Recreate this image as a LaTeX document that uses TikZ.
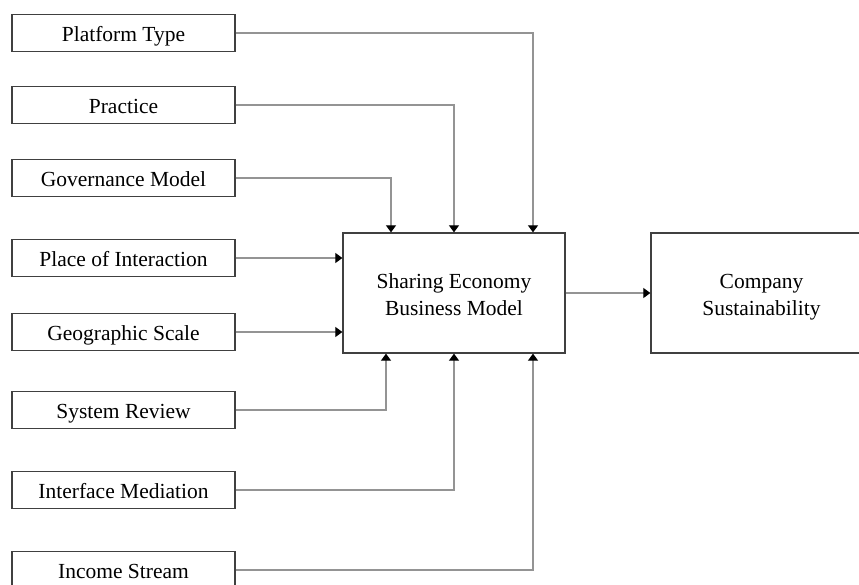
\documentclass[tikz,border=0pt]{standalone}
\usepackage{fontspec}
\setmainfont{Liberation Serif}
\usetikzlibrary{arrows.meta}

\tikzset{
  factor/.style={draw=black!75, line width=1.3pt, fill=white, inner sep=0pt,
    minimum width=223pt, minimum height=37pt,
    text height=16pt, text depth=0pt,
    font=\fontsize{21.5}{26.7}\selectfont},
  bigbox/.style={draw=black!75, line width=1.3pt, fill=white, inner sep=0pt,
    minimum width=222pt, minimum height=120pt, align=center,
    text height=44pt, text depth=0pt,
    font=\fontsize{21.5}{26.7}\selectfont},
  conn/.style={draw=black!42, line width=1.1pt,
    -{Triangle[length=7pt,width=10pt,fill=black,color=black]}},
}

\begin{document}
\begin{tikzpicture}[x=1pt,y=-1pt]
  \useasboundingbox (0,0) rectangle (859,584);
  \clip (0,0) rectangle (859,584);

  % influencing factors, left column
  \node[factor] (pt)  at (123.5,33)  {Platform Type};
  \node[factor] (pr)  at (123.5,105) {Practice};
  \node[factor] (gm)  at (123.5,178) {Governance Model};
  \node[factor] (poi) at (123.5,258) {Place of Interaction};
  \node[factor] (gs)  at (123.5,332) {Geographic Scale};
  \node[factor] (sr)  at (123.5,410) {System Review};
  \node[factor] (im)  at (123.5,490) {Interface Mediation};
  \node[factor] (is)  at (123.5,570) {Income Stream};

  % central model and outcome
  \node[bigbox] (sebm) at (454,293) {Sharing Economy\\Business Model};
  \node[bigbox, minimum width=221pt] (cs) at (761.5,293) {Company\\Sustainability};

  % connectors entering from above
  \draw[conn] (pt.east) -| ([xshift=79pt]sebm.north);
  \draw[conn] (pr.east) -| (sebm.north);
  \draw[conn] (gm.east) -| ([xshift=-63pt]sebm.north);

  % connectors entering from the left
  \draw[conn] (poi.east) -- (poi.east -| sebm.west);
  \draw[conn] (gs.east) -- (gs.east -| sebm.west);

  % connectors entering from below
  \draw[conn] (sr.east) -| ([xshift=-68pt]sebm.south);
  \draw[conn] (im.east) -| (sebm.south);
  \draw[conn] (is.east) -| ([xshift=79pt]sebm.south);

  % model to outcome
  \draw[conn] (sebm.east) -- (cs.west);
\end{tikzpicture}
\end{document}
